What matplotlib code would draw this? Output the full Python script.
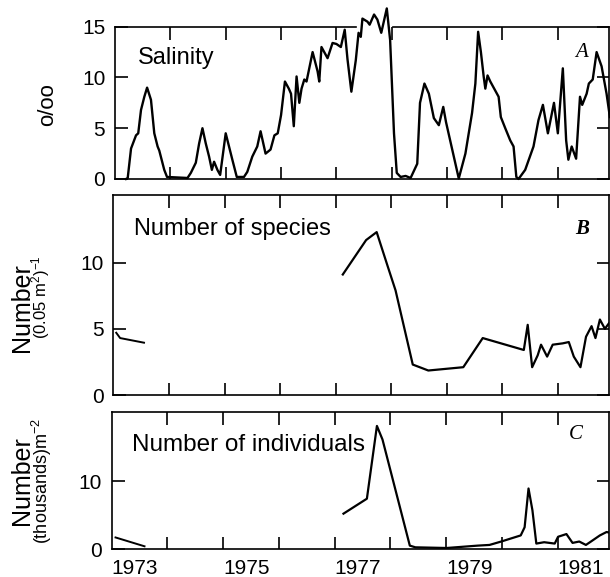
import matplotlib
matplotlib.use('Agg')
import numpy as np
import matplotlib.pyplot as plt
from matplotlib.ticker import FixedLocator

plt.rcParams['font.family'] = ['Liberation Sans', 'DejaVu Sans']
plt.rcParams['mathtext.fontset'] = 'custom'
plt.rcParams['mathtext.rm'] = 'Liberation Sans'
plt.rcParams['mathtext.it'] = 'Liberation Sans:italic'

# x axis: years
X_MIN, X_MAX = 1973.0, 1981.92
year_ticks = [1974, 1975, 1976, 1977, 1978, 1979, 1980, 1981]
year_labels = ['1973', '1975', '1977', '1979', '1981']
year_label_pos = [1973.42, 1975.42, 1977.42, 1979.42, 1981.42]

# A: salinity (o/oo)
sal_year = [1973.20, 1973.23, 1973.29, 1973.38, 1973.42, 1973.47, 1973.53, 1973.58, 1973.65, 1973.71,
            1973.77, 1973.80, 1973.89, 1973.94, 1974.31, 1974.37, 1974.46, 1974.52, 1974.58, 1974.64,
            1974.70, 1974.75, 1974.79, 1974.85, 1974.90, 1975.00, 1975.06, 1975.12, 1975.20, 1975.33,
            1975.39, 1975.48, 1975.57, 1975.63, 1975.72, 1975.81, 1975.88, 1975.94, 1976.00, 1976.07,
            1976.14, 1976.18, 1976.23, 1976.28, 1976.33, 1976.37, 1976.42, 1976.46, 1976.57, 1976.66,
            1976.69, 1976.73, 1976.84, 1976.93, 1977.00, 1977.08, 1977.15, 1977.20, 1977.27, 1977.35,
            1977.40, 1977.44, 1977.47, 1977.56, 1977.60, 1977.68, 1977.74, 1977.81, 1977.91, 1977.97,
            1978.04, 1978.09, 1978.16, 1978.25, 1978.34, 1978.46, 1978.51, 1978.59, 1978.67, 1978.76,
            1978.85, 1978.93, 1978.98, 1979.21, 1979.33, 1979.45, 1979.51, 1979.56, 1979.61, 1979.66,
            1979.69, 1979.73, 1979.78, 1979.93, 1979.97, 1980.05, 1980.14, 1980.20, 1980.25, 1980.29,
            1980.41, 1980.56, 1980.65, 1980.73, 1980.82, 1980.93, 1981.00, 1981.09, 1981.15, 1981.19,
            1981.25, 1981.33, 1981.40, 1981.44, 1981.52, 1981.56, 1981.63, 1981.70, 1981.79, 1981.88,
            1981.94]
sal_val = [0.0, 0.1, 3.0, 4.3, 4.5, 6.8, 8.1, 9.0, 7.8, 4.5,
           3.2, 2.8, 0.9, 0.2, 0.1, 0.6, 1.6, 3.5, 5.0, 3.5,
           2.2, 0.9, 1.7, 0.9, 0.4, 4.5, 3.2, 1.9, 0.2, 0.2,
           0.7, 2.2, 3.2, 4.7, 2.5, 2.9, 4.3, 4.5, 6.3, 9.6,
           8.9, 8.4, 5.2, 10.1, 7.5, 8.9, 9.8, 9.6, 12.5, 10.6,
           9.6, 13.0, 11.9, 13.4, 13.3, 13.0, 14.7, 11.8, 8.6, 11.7,
           14.4, 14.0, 15.8, 15.5, 15.2, 16.2, 15.7, 14.4, 16.8, 13.7,
           4.5, 0.6, 0.2, 0.3, 0.1, 1.5, 7.5, 9.4, 8.4, 6.0,
           5.3, 7.1, 5.6, 0.05, 2.5, 6.5, 9.4, 14.5, 12.5, 10.1,
           8.9, 10.2, 9.6, 8.1, 6.1, 5.0, 3.8, 3.2, 0.2, 0.0,
           0.9, 3.2, 5.8, 7.3, 4.5, 7.5, 4.5, 10.9, 3.8, 1.9,
           3.2, 2.0, 8.1, 7.3, 8.4, 9.4, 9.8, 12.5, 11.1, 8.4,
           6.1]

# B: number of species per 0.05 m2
spec_year_early = [1973.05, 1973.12, 1973.55]
spec_val_early = [4.7, 4.3, 3.95]
spec_year = [1977.13, 1977.55, 1977.74, 1977.94, 1978.08, 1978.39, 1978.67, 1979.30, 1979.65, 1980.39,
             1980.46, 1980.54, 1980.64, 1980.70, 1980.81, 1980.91, 1981.09, 1981.20, 1981.29, 1981.41,
             1981.51, 1981.61, 1981.68, 1981.76, 1981.85, 1981.92]
spec_val = [9.1, 11.7, 12.3, 9.7, 7.9, 2.3, 1.85, 2.1, 4.3, 3.4,
            5.3, 2.1, 3.0, 3.8, 2.9, 3.8, 3.9, 4.0, 2.9, 2.1,
            4.4, 5.2, 4.3, 5.7, 5.0, 5.4]

# C: number of individuals (thousands) per m2
ind_year_early = [1973.07, 1973.59]
ind_val_early = [1.7, 0.4]
ind_year = [1977.16, 1977.58, 1977.76, 1977.86, 1978.35, 1978.45, 1979.01, 1979.57, 1979.78, 1979.99,
            1980.34, 1980.41, 1980.48, 1980.55, 1980.62, 1980.76, 1980.95, 1981.01, 1981.16, 1981.27,
            1981.39, 1981.51, 1981.60, 1981.76, 1981.88, 1981.94]
ind_val = [5.2, 7.4, 18.1, 16.1, 0.5, 0.25, 0.15, 0.5, 0.6, 1.1,
           2.0, 3.2, 8.9, 5.7, 0.8, 1.0, 0.8, 1.8, 2.2, 0.9,
           1.1, 0.6, 1.1, 2.0, 2.5, 2.4]


def styleAxis(ax, ymax, yticks, showYears):
    ax.set_xlim(X_MIN, X_MAX)
    ax.set_ylim(0, ymax)
    ax.set_yticks(yticks)
    ax.set_xticks(year_label_pos)
    ax.set_xticklabels(year_labels if showYears else [])
    ax.xaxis.set_minor_locator(FixedLocator(year_ticks))
    ax.tick_params(axis='x', which='major', length=0, pad=7, labelsize=15)
    ax.tick_params(axis='x', which='minor', direction='in', length=9, width=1.2, top=True, bottom=True)
    ax.tick_params(axis='y', direction='in', length=9, width=1.2, right=True, labelsize=15, pad=7)
    for s in ax.spines.values():
        s.set_linewidth(1.2)


def yLabel(x, y, text, size):
    # x is the baseline of the rotated text, in pixels from the left
    fig.text(x / 610, 1 - y / 577, text, rotation=90, rotation_mode='anchor',
             fontsize=size, ha='center', va='baseline')


fig = plt.figure(figsize=(6.1, 5.77), dpi=100)
axA = fig.add_axes([0.1885, 0.6898, 0.8095, 0.2639])
axB = fig.add_axes([0.1860, 0.3154, 0.8120, 0.3466])
axC = fig.add_axes([0.1830, 0.0485, 0.8150, 0.2369])

styleAxis(axA, 15, [0, 5, 10, 15], False)
styleAxis(axB, 15.1, [0, 5, 10], False)
styleAxis(axC, 20.1, [0, 10], True)

# salinity runs over the top frame; leave a gap in the frame there
axA.spines['top'].set_bounds(X_MIN, 1977.36)
axA.plot([1978.02, X_MAX], [15, 15], color='black', lw=1.2, clip_on=False)
axA.plot(sal_year, sal_val, color='black', lw=1.7, clip_on=False)

axB.plot(spec_year_early, spec_val_early, color='black', lw=1.4)
axB.plot(spec_year, spec_val, color='black', lw=1.6)

axC.plot(ind_year_early, ind_val_early, color='black', lw=1.4)
axC.plot(ind_year, ind_val, color='black', lw=1.6)

axA.text(1973.42, 11.9, 'Salinity', fontsize=17, ha='left', va='center')
axB.text(1973.37, 12.5, 'Number of species', fontsize=17, ha='left', va='center')
axC.text(1973.37, 15.3, 'Number of individuals', fontsize=17.5, ha='left', va='center')

letter = dict(fontsize=15, style='italic', family='Liberation Serif', ha='center', va='center')
axA.text(1981.43, 12.5, 'A', **letter)
axB.text(1981.44, 12.5, 'B', weight='bold', **letter)
axC.text(1981.33, 16.8, 'C', **letter)

yLabel(53.5, 105, 'o/oo', 16)
yLabel(29.5, 308, 'Number', 18)
yLabel(46.5, 297, r'(0.05 m$^{2}$)$^{-1}$', 12)
yLabel(29.5, 481, 'Number', 18)
yLabel(48.5, 481, r'(thousands)m$^{-2}$', 13)

fig.savefig('out.png', dpi=100)
